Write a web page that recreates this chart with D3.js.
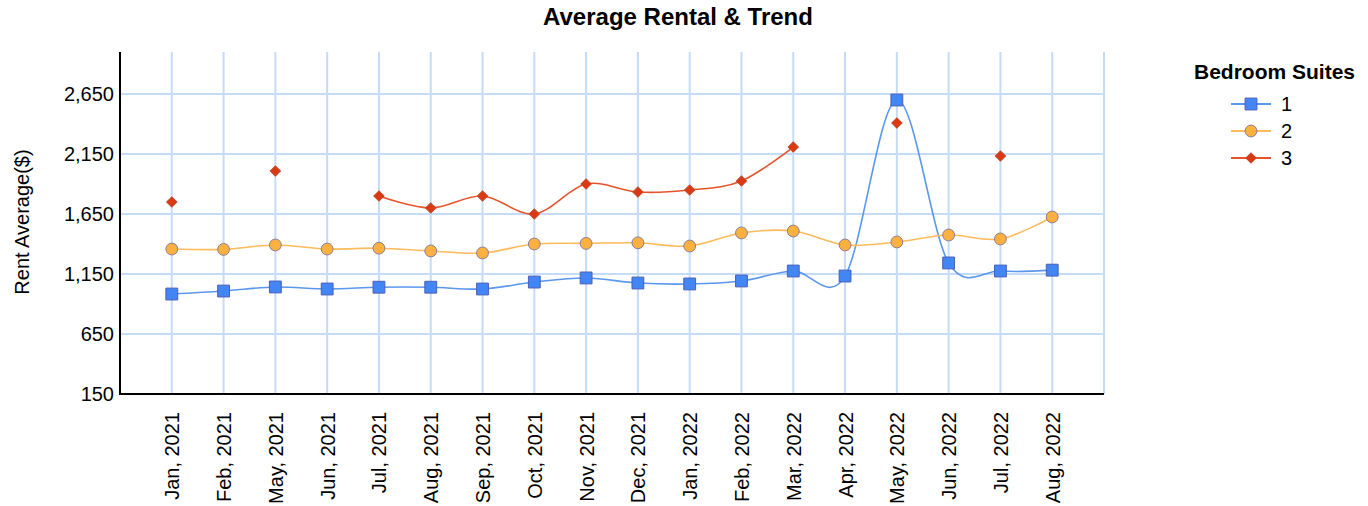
<!DOCTYPE html>
<html>
<head>
<meta charset="utf-8">
<script src="https://cdn.jsdelivr.net/npm/d3@7"></script>
<style>
  body { margin: 0; background: #fff; }
  text { font-family: "Liberation Sans", Arial, sans-serif; fill: #000; }
</style>
</head>
<body>
<div id="chart"></div>
<script>
// data
var months = ["Jan, 2021","Feb, 2021","May, 2021","Jun, 2021","Jul, 2021","Aug, 2021","Sep, 2021",
  "Oct, 2021","Nov, 2021","Dec, 2021","Jan, 2022","Feb, 2022","Mar, 2022","Apr, 2022",
  "May, 2022","Jun, 2022","Jul, 2022","Aug, 2022"];
var suite1 = [983,1008,1042,1025,1040,1040,1025,1083,1117,1075,1067,1092,1175,1133,2600,1242,1175,1182];
var suite2 = [1358,1355,1392,1358,1365,1342,1325,1400,1405,1410,1383,1492,1508,1392,1417,1475,1442,1625];
var suite3 = [1750,null,2008,null,1800,1700,1800,1650,1900,1833,1850,1925,2208,null,2408,null,2133,null];
var seriesNames = ["1","2","3"];
var yTicks = [150,650,1150,1650,2150,2650];

var width = 1368,
  height = 506;
var plotLeft = 120, plotRight = 1104, plotTop = 52, plotBottom = 394;

var svg = d3.select("#chart")
  .append("svg")
  .attr("width", width)
  .attr("height", height);

// scales
var x = d3.scalePoint().domain(months).range([plotLeft, plotRight]).padding(1);
var y = d3.scaleLinear().domain([150, 3000]).range([plotBottom, plotTop]);

// grid
var grid = svg.append("g").attr("stroke", "#c6dbf7").attr("stroke-width", 2);
grid.selectAll("line.h")
  .data(yTicks.slice(1))
  .enter().append("line")
  .attr("x1", plotLeft).attr("x2", plotRight)
  .attr("y1", function(d){ return y(d); })
  .attr("y2", function(d){ return y(d); });
grid.selectAll("line.v")
  .data(months)
  .enter().append("line")
  .attr("x1", function(d){ return x(d); })
  .attr("x2", function(d){ return x(d); })
  .attr("y1", plotTop).attr("y2", plotBottom);
grid.append("line")
  .attr("x1", plotRight).attr("x2", plotRight)
  .attr("y1", plotTop).attr("y2", plotBottom);

// axes
var yAxis = svg.append("g")
  .attr("transform", "translate(" + plotLeft + ",0)")
  .call(d3.axisLeft(y).tickValues(yTicks).tickSize(0).tickPadding(6).tickFormat(d3.format(",")));
yAxis.select(".domain").remove();
yAxis.selectAll("text").style("font-size", "20px").style("font-family", "Liberation Sans, Arial, sans-serif");

var xAxis = svg.append("g")
  .attr("transform", "translate(0," + plotBottom + ")")
  .call(d3.axisBottom(x).tickSize(0));
xAxis.select(".domain").remove();
xAxis.selectAll("text")
  .attr("transform", "rotate(-90)")
  .attr("x", -18)
  .attr("y", 0)
  .attr("dy", "0.35em")
  .style("text-anchor", "end")
  .style("font-size", "20px")
  .style("font-family", "Liberation Sans, Arial, sans-serif");

svg.append("line")
  .attr("x1", plotLeft).attr("x2", plotLeft)
  .attr("y1", plotTop).attr("y2", plotBottom + 1)
  .attr("stroke", "#000").attr("stroke-width", 2);
svg.append("line")
  .attr("x1", plotLeft).attr("x2", plotRight)
  .attr("y1", plotBottom).attr("y2", plotBottom)
  .attr("stroke", "#000").attr("stroke-width", 2);

// lines
var series = [
  { name: seriesNames[0], values: suite1, line: "#5b97ec", fill: "#4285f4", stroke: "#4b5fb8", shape: d3.symbolSquare, size: 140, rot: 0 },
  { name: seriesNames[1], values: suite2, line: "#fdbb5c", fill: "#fbb040", stroke: "#8b7e96", shape: d3.symbolCircle, size: 110, rot: 0 },
  { name: seriesNames[2], values: suite3, line: "#e4542a", fill: "#dc3912", stroke: "#c0482a", shape: d3.symbolSquare, size: 52, rot: 45 }
];

var line = d3.line()
  .defined(function(d){ return d != null; })
  .x(function(d, i){ return x(months[i]); })
  .y(function(d){ return y(d); })
  .curve(d3.curveCardinal.tension(0));

series.forEach(function(s){
  svg.append("path")
    .datum(s.values)
    .attr("d", line)
    .attr("fill", "none")
    .attr("stroke", s.line)
    .attr("stroke-width", 1.6);
});

series.forEach(function(s){
  svg.append("g")
    .selectAll("path")
    .data(s.values.map(function(v, i){ return { v: v, m: months[i] }; }).filter(function(d){ return d.v != null; }))
    .enter().append("path")
    .attr("transform", function(d){ return "translate(" + x(d.m) + "," + y(d.v) + ") rotate(" + s.rot + ")"; })
    .attr("d", d3.symbol().type(s.shape).size(s.size))
    .attr("fill", s.fill)
    .attr("stroke", s.stroke)
    .attr("stroke-width", 1);
});

// title
svg.append("text")
  .attr("x", 678)
  .attr("y", 25)
  .style("text-anchor", "middle")
  .style("font-size", "24px")
  .style("font-weight", "bold")
  .text("Average Rental & Trend");

svg.append("text")
  .attr("transform", "rotate(-90)")
  .attr("x", -222)
  .attr("y", 29)
  .style("text-anchor", "middle")
  .style("font-size", "20px")
  .text("Rent Average($)");

// legend
svg.append("text")
  .attr("x", 1194)
  .attr("y", 79)
  .style("font-size", "21px")
  .style("font-weight", "bold")
  .text("Bedroom Suites");

var legend = svg.append("g")
  .selectAll("g")
  .data(series)
  .enter().append("g")
  .attr("transform", function(d, i){ return "translate(0," + (104 + i * 27) + ")"; });
legend.append("line")
  .attr("x1", 1231).attr("x2", 1271)
  .attr("stroke", function(d){ return d.line; })
  .attr("stroke-width", 2);
legend.append("path")
  .attr("transform", function(d){ return "translate(1251,0) rotate(" + d.rot + ")"; })
  .attr("d", function(d){ return d3.symbol().type(d.shape).size(d.size)(); })
  .attr("fill", function(d){ return d.fill; })
  .attr("stroke", function(d){ return d.stroke; })
  .attr("stroke-width", 1);
legend.append("text")
  .attr("x", 1281)
  .attr("dy", "0.36em")
  .style("font-size", "20px")
  .text(function(d){ return d.name; });
</script>
</body>
</html>
